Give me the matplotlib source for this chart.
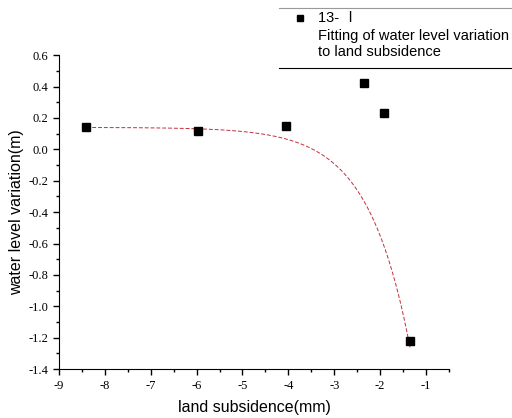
import numpy as np
import matplotlib
matplotlib.use("Agg")
import matplotlib.pyplot as plt
from matplotlib.lines import Line2D
from matplotlib.ticker import MultipleLocator, FormatStrFormatter

plt.rcParams['axes.unicode_minus'] = False

# measured points
subsidence = [-8.4, -5.96, -4.05, -2.36, -1.91, -1.35]
water_level = [0.14, 0.12, 0.15, 0.42, 0.23, -1.22]

# exponential fit y = y0 - A*exp(x/t)
y0 = 0.14
amp = 6.1
t = 0.918

series_label = "13- \u2160"
fit_label = "Fitting of water level variation\nto land subsidence"

fig = plt.figure(figsize=(5.12, 4.18), dpi=100)
ax = fig.add_axes([0.115, 0.117, 0.762, 0.751])

xf = np.linspace(min(subsidence), max(subsidence), 300)
yf = y0 - amp * np.exp(xf / t)
ax.plot(xf, yf, color='#c0303a', lw=0.7, ls=(0, (4, 2)))
ax.plot(subsidence, water_level, 's', color='black', ms=6, ls='none')

ax.set_xlim(-9, -0.5)
ax.set_ylim(-1.4, 0.6)
ax.xaxis.set_major_locator(MultipleLocator(1))
ax.xaxis.set_minor_locator(MultipleLocator(0.5))
ax.yaxis.set_major_locator(MultipleLocator(0.2))
ax.yaxis.set_minor_locator(MultipleLocator(0.1))
ax.xaxis.set_major_formatter(FormatStrFormatter('%d'))
ax.yaxis.set_major_formatter(FormatStrFormatter('%.1f'))
ax.tick_params(which='major', direction='out', length=4, width=1, labelsize=9)
ax.tick_params(which='minor', direction='out', length=2, width=1)
for lab in ax.get_xticklabels() + ax.get_yticklabels():
    lab.set_fontfamily('Liberation Serif')
for s in ['top', 'right']:
    ax.spines[s].set_visible(False)

ax.set_xlabel("land subsidence(mm)", fontsize=11.5, family='Liberation Sans', labelpad=6)
ax.set_ylabel("water level variation(m)", fontsize=11.5, family='Liberation Sans', labelpad=3)

# legend block at the top right
fig.add_artist(Line2D([0.545, 1.0], [0.981, 0.981], color='#999999', lw=0.8))
fig.add_artist(Line2D([0.545, 1.0], [0.838, 0.838], color='black', lw=0.8))
fig.add_artist(Line2D([0.586], [0.957], marker='s', color='black', ms=5, ls='none'))
fig.text(0.621, 0.957, series_label, fontsize=10.5,
         family=['Liberation Sans', 'Noto Sans CJK SC'], va='center')
fig.text(0.621, 0.895, fit_label, fontsize=10.5, family='Liberation Sans', va='center',
         linespacing=1.15)

fig.savefig("out.png", dpi=100)
